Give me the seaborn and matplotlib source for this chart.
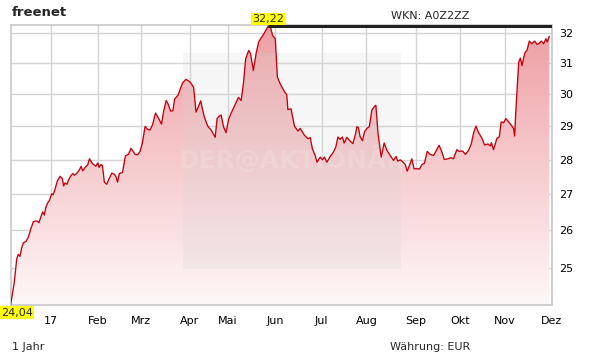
import numpy as np
import pandas as pd
import matplotlib
matplotlib.use("Agg")
import matplotlib.pyplot as plt
from matplotlib.ticker import FixedLocator, FixedFormatter, NullLocator
from matplotlib.colors import LinearSegmentedColormap
import seaborn as sns

# ---- data (trading-day index, closing price in EUR) ----
day = [0, 1.7, 2.9, 3.6, 4.4, 5.2, 6.0, 7.2, 8.3, 9.6, 10.7, 12.3, 13.3, 14.3, 15.1, 15.8,
       16.5, 17.4, 18.2, 19.3, 20.0, 20.8, 21.9, 23.2, 24.3, 24.9, 25.5, 26.5, 27.1, 28.4,
       29.2, 29.9, 31.0, 32.1, 33.1, 33.8, 34.9, 36.2, 37.0, 38.4, 40.0, 40.9, 41.5, 42.4,
       43.1, 44.0, 45.1, 46.2, 47.5, 48.7, 49.5, 50.2, 51.0, 52.5, 53.9, 55.3, 56.5, 57.3,
       58.4, 59.6, 60.8, 61.9, 63.1, 64.3, 65.4, 66.6, 68.0, 69.5, 70.8, 71.8, 73.0, 73.9,
       75.1, 76.1, 77.0, 78.5, 79.5, 80.7, 82.3, 83.5, 84.5, 85.9, 87.0, 88.3, 89.2, 89.9,
       90.9, 92.5, 94.1, 96.0, 96.9, 97.8, 98.8, 99.9, 101.1, 102.3, 103.5, 105.0, 106.9,
       108.2, 109.3, 110.3, 111.7, 112.6, 113.9, 115.2, 116.4, 117.6, 119.0, 120.8, 122.0,
       122.9, 124.2, 125.2, 126.7, 128.5, 129.6, 130.1, 131.6, 133.2, 134.8, 135.9, 137.9,
       139.5, 140.6, 141.6, 142.9, 143.8, 145.3, 146.3, 147.3, 148.4, 150.0, 151.5, 152.6,
       153.6, 154.6, 155.7, 156.5, 157.8, 159.3, 160.6, 161.7, 162.5, 163.2, 164.0, 165.1,
       166.1, 167.2, 168.3, 168.7, 169.5, 170.8, 171.4, 172.4, 173.9, 175.3, 176.6, 178.1,
       179.7, 180.9, 181.7, 182.8, 183.9, 185.2, 186.1, 187.2, 188.3, 189.3, 190.7, 191.9,
       193.0, 194.2, 195.5, 196.9, 198.5, 200.0, 201.1, 202.4, 203.5, 205.2, 206.8, 207.8,
       209.4, 210.5, 212.1, 213.4, 214.9, 216.2, 217.2, 218.4, 219.6, 221.2, 222.4, 224.0,
       225.1, 225.6, 226.6, 228.2, 229.3, 230.2, 231.3, 232.4, 233.7, 234.9, 236.0, 236.5,
       237.1, 237.6, 238.4, 239.2, 240.0, 240.7, 241.5, 242.3, 243.4, 244.6, 245.9, 247.0,
       248.1, 249.0, 250.1, 251.2, 251.8, 252.8]
price = [24.04, 24.61, 25.24, 25.35, 25.30, 25.53, 25.66, 25.70, 25.81, 26.06, 26.24, 26.26,
         26.21, 26.39, 26.51, 26.42, 26.63, 26.76, 26.83, 27.02, 26.99, 27.14, 27.38, 27.52,
         27.45, 27.24, 27.33, 27.29, 27.40, 27.55, 27.60, 27.55, 27.60, 27.69, 27.81, 27.68,
         27.77, 27.86, 28.03, 27.89, 27.81, 27.91, 27.78, 27.86, 27.83, 27.35, 27.29, 27.45,
         27.61, 27.58, 27.50, 27.35, 27.60, 27.63, 28.12, 28.16, 28.34, 28.27, 28.16, 28.15,
         28.25, 28.52, 29.00, 28.91, 28.89, 29.05, 29.41, 29.24, 29.07, 29.46, 29.80, 29.69,
         29.47, 29.48, 29.85, 29.96, 30.14, 30.36, 30.47, 30.42, 30.36, 30.21, 29.44, 29.64,
         29.79, 29.57, 29.29, 29.01, 28.89, 28.67, 29.24, 29.31, 29.35, 28.99, 28.81, 29.22,
         29.41, 29.62, 29.90, 29.80, 30.37, 31.13, 31.41, 31.30, 30.75, 31.31, 31.69, 31.83,
         31.98, 32.22, 32.18, 31.91, 31.80, 30.54, 30.30, 30.08, 29.98, 29.52, 29.54, 29.01,
         28.86, 28.94, 28.73, 28.63, 28.66, 28.33, 28.13, 27.93, 28.08, 28.00, 28.08, 27.93,
         28.10, 28.23, 28.38, 28.68, 28.61, 28.68, 28.50, 28.67, 28.56, 28.48, 28.73, 28.99,
         28.97, 28.69, 28.57, 28.84, 28.94, 28.99, 29.14, 29.50, 29.62, 29.65, 28.79, 28.08,
         28.50, 28.28, 28.13, 27.98, 28.10, 27.96, 28.00, 27.95, 27.86, 27.67, 27.84, 28.03,
         27.74, 27.74, 27.73, 27.86, 27.90, 28.25, 28.16, 28.13, 28.30, 28.43, 28.23, 28.01,
         28.03, 28.06, 28.03, 28.30, 28.25, 28.26, 28.16, 28.28, 28.48, 28.79, 29.01, 28.81,
         28.64, 28.44, 28.47, 28.41, 28.51, 28.30, 28.64, 28.68, 29.14, 29.11, 29.24, 29.14,
         29.04, 28.94, 28.71, 29.49, 30.05, 31.02, 31.16, 30.91, 31.16, 31.35, 31.41, 31.72,
         31.63, 31.72, 31.61, 31.65, 31.72, 31.63, 31.80, 31.69, 31.88]

month_pos = [19, 41, 61, 84, 102, 124, 146, 167, 190, 211, 232, 254]
month_labels = ["17", "Feb", "Mrz", "Apr", "Mai", "Jun", "Jul", "Aug", "Sep", "Okt", "Nov", "Dez"]
y_ticks = [25, 26, 27, 28, 29, 30, 31, 32]
y_labels = ["25", "26", "27", "28", "29", "30", "31", "32"]

price_max = 32.22
price_min = 24.04
title = "freenet"
wkn = "WKN: A0Z2ZZ"
period = "1 Jahr"
currency = "Währung: EUR"

df = pd.DataFrame({"day": day, "price": price})

sns.set_style("white")
plt.rcParams["font.family"] = ["DejaVu Sans"]

W, H = 611, 364
fig = plt.figure(figsize=(W / 100, H / 100), dpi=100)
fig.patch.set_facecolor("white")
ax = fig.add_axes([10.6 / W, 1 - 305 / H, (551.9 - 10.6) / W, (305 - 25) / H])
ax.set_facecolor("white")

ax.set_yscale("log")
ax.set_xlim(0, 254)
ax.set_ylim(price_min, 32.26)

# gradient fill under the curve
poly = ax.fill_between(df["day"], df["price"], price_min, color="none", lw=0)
cmap = LinearSegmentedColormap.from_list("g", [(0.998, 0.972, 0.972), (0.935, 0.62, 0.64)])
grad = np.linspace(0, 1, 256).reshape(-1, 1)
im = ax.imshow(grad, extent=[0, 1, 0, 1], transform=ax.transAxes, origin="lower",
               aspect="auto", cmap=cmap, zorder=1.5, interpolation="bilinear")
path = poly.get_paths()[0]
im.set_clip_path(path, poly.get_transform())

# watermark panel
ax.add_patch(plt.Rectangle((0.319, 0.1275), 0.402, 0.7735, transform=ax.transAxes,
                           facecolor="#d6d6d6", alpha=0.22, edgecolor="none", zorder=1.8))
ax.text(0.52, 0.52, "DER@AKTIONÄR", transform=ax.transAxes, ha="center", va="center",
        fontsize=18, fontweight="bold", color="white", alpha=0.16, zorder=1.9)

sns.lineplot(data=df, x="day", y="price", ax=ax, color="#c4000b", linewidth=0.95,
             estimator=None, sort=False, zorder=3)

# max line
peak_idx = int(np.argmax(price))
ax.hlines(price_max, day[peak_idx], 254, color="#222222", linewidth=2.2, zorder=4)

# grid and axes
ax.xaxis.set_major_locator(FixedLocator(month_pos))
ax.xaxis.set_major_formatter(FixedFormatter(month_labels))
ax.yaxis.set_major_locator(FixedLocator(y_ticks))
ax.yaxis.set_major_formatter(FixedFormatter(y_labels))
ax.yaxis.set_minor_locator(NullLocator())
ax.xaxis.set_minor_locator(NullLocator())
ax.grid(True, color="#d4d4d4", linewidth=1.0, zorder=1)
ax.set_axisbelow(True)
ax.yaxis.tick_right()
ax.tick_params(axis="both", length=0, labelsize=8, colors="black")
ax.tick_params(axis="y", pad=5)
ax.tick_params(axis="x", pad=8)
for s in ax.spines.values():
    s.set_color("#c8c8c8")
    s.set_linewidth(1.2)
ax.set_xlabel("")
ax.set_ylabel("")

# value labels
ax.annotate(f"{price_max:.2f}".replace(".", ","), xy=(day[peak_idx], price_max),
            xytext=(0, 1.5), textcoords="offset points", ha="center", va="bottom", fontsize=8,
            bbox=dict(boxstyle="square,pad=0.12", fc="#ffff00", ec="none"), zorder=6,
            annotation_clip=False)
ax.annotate(f"{price_min:.2f}".replace(".", ","), xy=(0, price_min),
            xytext=(-7, -2), textcoords="offset points", ha="left", va="top", fontsize=8,
            bbox=dict(boxstyle="square,pad=0.12", fc="#ffff00", ec="none"), zorder=6,
            annotation_clip=False)

# header / footer texts
fig.text(12 / W, 1 - 12 / H, title, fontsize=9.5, fontweight="bold", ha="left", va="center")
fig.text(391 / W, 1 - 16 / H, wkn, fontsize=8, ha="left", va="center")
fig.text(12 / W, 1 - 347 / H, period, fontsize=8, ha="left", va="center")
fig.text(390 / W, 1 - 347 / H, currency, fontsize=8, ha="left", va="center")

fig.savefig("out.png", dpi=100, facecolor="white")
